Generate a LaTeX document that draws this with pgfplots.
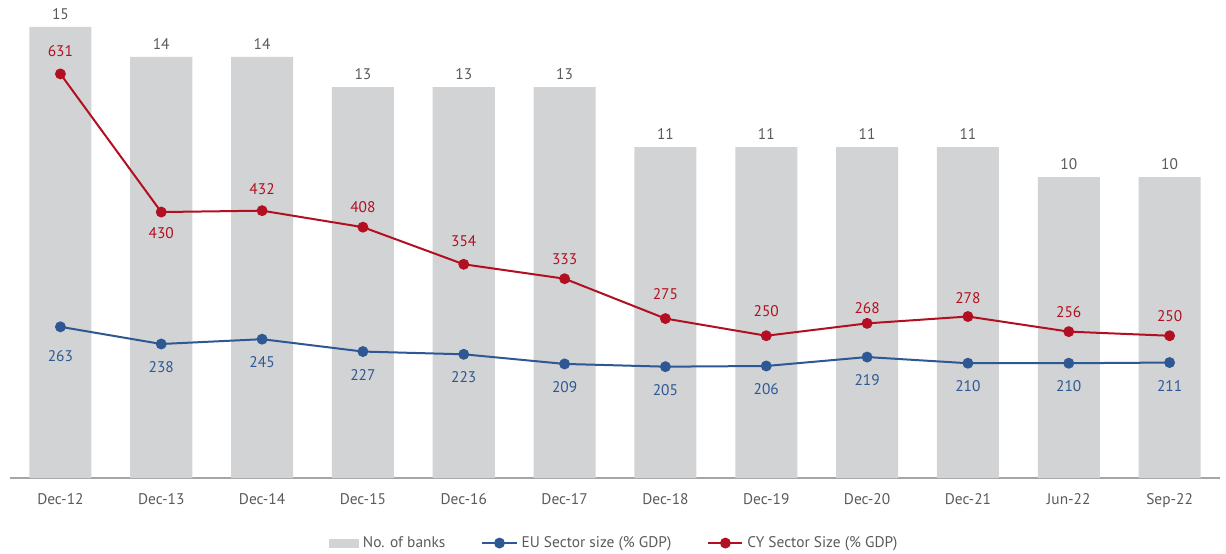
\documentclass[border=0pt]{standalone}
\usepackage{pgfplots}
\pgfplotsset{compat=1.18}
\usepackage{fontspec}
\setmainfont{PT Sans}
\definecolor{barcol}{RGB}{209,211,212}
\definecolor{eucol}{RGB}{46,88,148}
\definecolor{cycol}{RGB}{178,16,34}
\definecolor{txtcol}{RGB}{90,90,90}
\definecolor{axiscol}{RGB}{165,165,165}
\newcommand{\lblfont}{\fontsize{7.7}{9}\selectfont}
\pgfplotsset{
  base/.style={
    at={(0,0)}, anchor=south west,
    scale only axis, width=605pt, height=234pt,
    xmin=-0.5, xmax=11.5,
    /pgf/number format/assume math mode=true,
  },
}
\begin{document}
\begin{tikzpicture}
\useasboundingbox (-5pt,-37.5pt) rectangle (608pt,239pt);
\begin{axis}[
  base,
  ymin=0, ymax=15.56,
  axis y line=none, axis x line*=bottom,
  x axis line style={draw=axiscol, line width=0.8pt},
  xtick={0,...,11},
  xticklabels={Dec-12,Dec-13,Dec-14,Dec-15,Dec-16,Dec-17,Dec-18,Dec-19,Dec-20,Dec-21,Jun-22,Sep-22},
  major tick length=0pt,
  xticklabel style={font=\lblfont, text=txtcol, yshift=-4pt},
]
\addplot[ybar, bar width=0.615, fill=barcol, draw=none,
  nodes near coords,
  nodes near coords style={anchor=center, yshift=6.5pt, text=txtcol, font=\lblfont}]
  coordinates {(0,15) (1,14) (2,14) (3,13) (4,13) (5,13) (6,11) (7,11) (8,11) (9,11) (10,10) (11,10)};
\end{axis}
\begin{axis}[
  base,
  ymin=43, ymax=724,
  hide axis,
  legend columns=3,
  legend cell align=left,
  legend style={at={(0.5,-0.139)}, anchor=center, draw=none, fill=none,
    font=\lblfont, text=txtcol,
    /tikz/every even column/.append style={column sep=16pt}},
]
\addlegendimage{legend image code/.code={\fill[barcol] (0cm,-0.07cm) rectangle (0.52cm,0.07cm);}}
\addlegendentry{No. of banks}
\addplot[eucol, line width=1pt, mark=*, mark size=2.2pt,
  nodes near coords,
  visualization depends on={value \thisrow{s}\as\myshift},
  nodes near coords style={anchor=center, yshift=\myshift pt, text=eucol, font=\lblfont}]
  table {
x y s
0 263 -14.5
1 238 -11.5
2 245 -11.5
3 227 -11.5
4 223 -11.5
5 209 -11.5
6 205 -11.5
7 206 -11.5
8 219 -11.5
9 210 -11.5
10 210 -11.5
11 211 -11.5
};
\addlegendentry{EU Sector size (\% GDP)}
\addplot[cycol, line width=1pt, mark=*, mark size=2.2pt,
  nodes near coords,
  visualization depends on={value \thisrow{s}\as\myshift},
  nodes near coords style={anchor=center, yshift=\myshift pt, text=cycol, font=\lblfont}]
  table {
x y s
0 631 11.5
1 430 -10.5
2 432 11
3 408 10
4 354 11.5
5 333 10
6 275 12
7 250 12.5
8 268 7.5
9 278 9
10 256 10
11 250 10
};
\addlegendentry{CY Sector Size (\% GDP)}
\end{axis}
\end{tikzpicture}
\end{document}
